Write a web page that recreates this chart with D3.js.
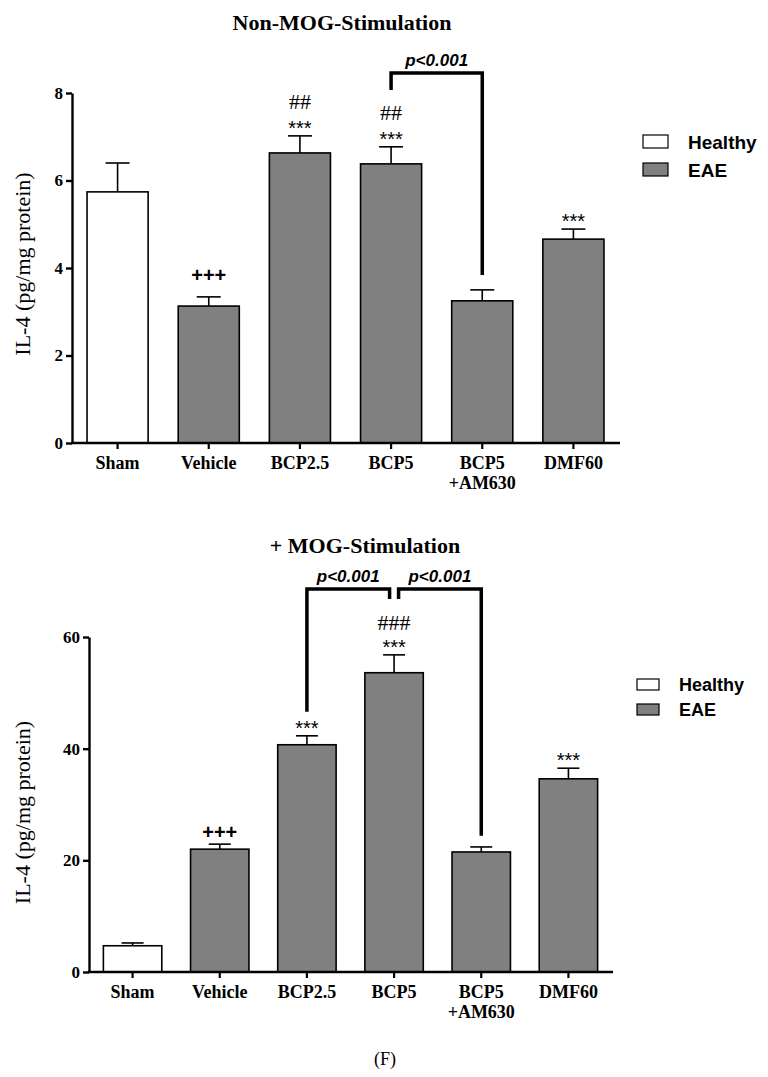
<!DOCTYPE html>
<html>
<head>
<meta charset="utf-8">
<script src="https://cdn.jsdelivr.net/npm/d3@7"></script>
<style>
  body { margin: 0; background: #fff; }
</style>
</head>
<body>
<svg id="fig"></svg>
<script>
// data
const categories = ['Sham', 'Vehicle', 'BCP2.5', 'BCP5', 'BCP5|+AM630', 'DMF60'];
const groups = ['Healthy', 'EAE', 'EAE', 'EAE', 'EAE', 'EAE'];
const legendKeys = ['Healthy', 'EAE'];

const nonMogMean = [5.74, 3.13, 6.63, 6.38, 3.25, 4.66];
const nonMogSem = [0.66, 0.21, 0.39, 0.39, 0.25, 0.23];
const nonMogTicks = [0, 2, 4, 6, 8];
const nonMogStars = ['', '+++', '***', '***', '', '***'];
const nonMogHash = ['', '', '##', '##', '', ''];
// [from, to, bar height, left leg end, right leg end] in data units
const nonMogBrackets = [['BCP5', 'BCP5|+AM630', 8.46, 8.07, 3.84]];

const mogMean = [4.7, 22.0, 40.7, 53.6, 21.5, 34.6];
const mogSem = [0.5, 0.9, 1.6, 3.2, 0.9, 1.9];
const mogTicks = [0, 20, 40, 60];
const mogStars = ['', '+++', '***', '***', '', '***'];
const mogHash = ['', '', '', '###', '', ''];
const mogBrackets = [
  ['BCP2.5', 'BCP5', 68.6, 46.6, 66.8],
  ['BCP5', 'BCP5|+AM630', 68.6, 66.8, 24.4]
];

const W = 768, H = 1077;
const serif = '"Liberation Serif", "Times New Roman", serif';
const sans = '"Liberation Sans", Arial, sans-serif';
const fill = {Healthy: '#ffffff', EAE: '#808080'};

const svg = d3.select('#fig').attr('width', W).attr('height', H);

function drawPanel(p) {
  const g = svg.append('g');

  const x = d3.scaleBand()
    .domain(categories)
    .range([p.left, p.right])
    .paddingInner(0.33)
    .paddingOuter(0.165);
  const y = d3.scaleLinear()
    .domain([0, p.ticks[p.ticks.length - 1]])
    .range([p.bottom, p.top]);

  // title
  g.append('text')
    .attr('x', p.titleX).attr('y', p.titleY)
    .attr('text-anchor', 'middle')
    .style('font-family', serif).style('font-weight', 'bold').style('font-size', '22px')
    .text(p.title);

  // y label
  g.append('text')
    .attr('transform', `translate(${p.labelX},${(p.top + p.bottom) / 2 + p.labelShift}) rotate(-90)`)
    .attr('text-anchor', 'middle')
    .style('font-family', serif).style('font-size', '22px')
    .text('IL-4 (pg/mg protein)');

  // bars
  const rows = categories.map((c, i) => ({c, m: p.mean[i], s: p.sem[i], grp: groups[i],
    star: p.stars[i], hash: p.hash[i]}));

  g.selectAll('rect.bar').data(rows).enter().append('rect')
    .attr('x', d => x(d.c))
    .attr('y', d => y(d.m))
    .attr('width', x.bandwidth())
    .attr('height', d => y(0) - y(d.m))
    .attr('fill', d => fill[d.grp])
    .attr('stroke', '#000').attr('stroke-width', 1.6);

  // error bars (upper only)
  const cx = d => x(d.c) + x.bandwidth() / 2;
  g.selectAll('line.err').data(rows).enter().append('line')
    .attr('x1', cx).attr('x2', cx)
    .attr('y1', d => y(d.m)).attr('y2', d => y(d.m + d.s))
    .attr('stroke', '#000').attr('stroke-width', 1.6);
  g.selectAll('line.cap').data(rows).enter().append('line')
    .attr('x1', d => cx(d) - p.cap / 2).attr('x2', d => cx(d) + p.cap / 2)
    .attr('y1', d => y(d.m + d.s)).attr('y2', d => y(d.m + d.s))
    .attr('stroke', '#000').attr('stroke-width', 1.6);

  // significance marks
  g.selectAll('text.star').data(rows.filter(d => d.star)).enter().append('text')
    .attr('x', cx)
    .attr('y', d => d.star === '+++' ? y(d.m + d.s) - p.plusGap : y(d.m + d.s) - 1)
    .attr('text-anchor', 'middle')
    .style('font-family', sans)
    .style('font-weight', d => d.star === '+++' ? 'bold' : 'normal')
    .style('font-size', '20px')
    .text(d => d.star);
  g.selectAll('text.hash').data(rows.filter(d => d.hash)).enter().append('text')
    .attr('x', cx)
    .attr('y', d => y(d.m + d.s) - p.hashGap)
    .attr('text-anchor', 'middle')
    .style('font-family', serif).style('font-size', '22px')
    .text(d => d.hash);

  // brackets
  p.brackets.forEach((b, i) => {
    let xa = x(b[0]) + x.bandwidth() / 2;
    let xb = x(b[1]) + x.bandwidth() / 2;
    // leave a small gap where two brackets meet on the same bar
    p.brackets.forEach((o, j) => {
      if (j !== i && o[0] === b[1]) xb -= 4.5;
      if (j !== i && o[1] === b[0]) xa += 4.5;
    });
    g.append('path')
      .attr('d', `M${xa},${y(b[3])}V${y(b[2])}H${xb}V${y(b[4])}`)
      .attr('fill', 'none').attr('stroke', '#000').attr('stroke-width', 3.5)
      .attr('stroke-linejoin', 'miter');
    g.append('text')
      .attr('x', (xa + xb) / 2).attr('y', y(b[2]) - 7)
      .attr('text-anchor', 'middle')
      .style('font-family', sans).style('font-weight', 'bold').style('font-style', 'italic')
      .style('font-size', '17px')
      .text('p<0.001');
  });

  // axes
  const yAxis = g.append('g')
    .attr('transform', `translate(${p.left},0)`)
    .call(d3.axisLeft(y).tickValues(p.ticks).tickSize(6).tickSizeOuter(0).tickPadding(3));
  yAxis.select('.domain').attr('stroke-width', 2.4);
  yAxis.selectAll('.tick line').attr('stroke-width', 2.4);
  yAxis.selectAll('.tick text')
    .style('font-family', serif).style('font-weight', 'bold').style('font-size', '17px');

  const xAxis = g.append('g')
    .attr('transform', `translate(0,${p.bottom})`)
    .call(d3.axisBottom(x).tickSize(6).tickSizeOuter(0).tickFormat(''));
  xAxis.select('.domain').attr('d', `M${p.left - 1},0H${p.right + 1}`).attr('stroke-width', 2.4);
  xAxis.selectAll('.tick line').attr('stroke-width', 2.2);

  const lab = g.selectAll('text.cat').data(categories).enter().append('text')
    .attr('text-anchor', 'middle')
    .style('font-family', serif).style('font-weight', 'bold').style('font-size', '18px');
  lab.each(function(c) {
    const parts = c.split('|');
    const t = d3.select(this);
    parts.forEach((s, k) => {
      t.append('tspan')
        .attr('x', x(c) + x.bandwidth() / 2)
        .attr('y', p.bottom + 26 + k * 20)
        .text(s);
    });
  });

  // legend
  const lg = g.append('g').attr('transform', `translate(${p.legX},${p.legY})`);
  legendKeys.forEach((k, i) => {
    lg.append('rect')
      .attr('x', 0).attr('y', i * p.legStep)
      .attr('width', p.legW).attr('height', p.legH)
      .attr('fill', fill[k]).attr('stroke', '#000').attr('stroke-width', 1.2);
    lg.append('text')
      .attr('x', p.legW + 20).attr('y', i * p.legStep + p.legH + 1)
      .style('font-family', sans).style('font-weight', 'bold').style('font-size', p.legFont)
      .text(k);
  });
}

drawPanel({
  title: 'Non-MOG-Stimulation', titleX: 342, titleY: 30,
  mean: nonMogMean, sem: nonMogSem, ticks: nonMogTicks,
  stars: nonMogStars, hash: nonMogHash, brackets: nonMogBrackets,
  left: 72, right: 619, top: 93, bottom: 443,
  labelX: 30, labelShift: -4, cap: 24, plusGap: 15, hashGap: 27,
  legX: 643, legY: 135, legW: 25, legH: 13, legStep: 28, legFont: '19px'
});

drawPanel({
  title: '+ MOG-Stimulation', titleX: 365, titleY: 553,
  mean: mogMean, sem: mogSem, ticks: mogTicks,
  stars: mogStars, hash: mogHash, brackets: mogBrackets,
  left: 89, right: 612, top: 637, bottom: 972,
  labelX: 30, labelShift: 8, cap: 22, plusGap: 5, hashGap: 25,
  legX: 637, legY: 679, legW: 22, legH: 11, legStep: 25, legFont: '18px'
});

svg.append('text')
  .attr('x', 385).attr('y', 1065)
  .attr('text-anchor', 'middle')
  .style('font-family', serif).style('font-size', '18px')
  .text('(F)');
</script>
</body>
</html>
